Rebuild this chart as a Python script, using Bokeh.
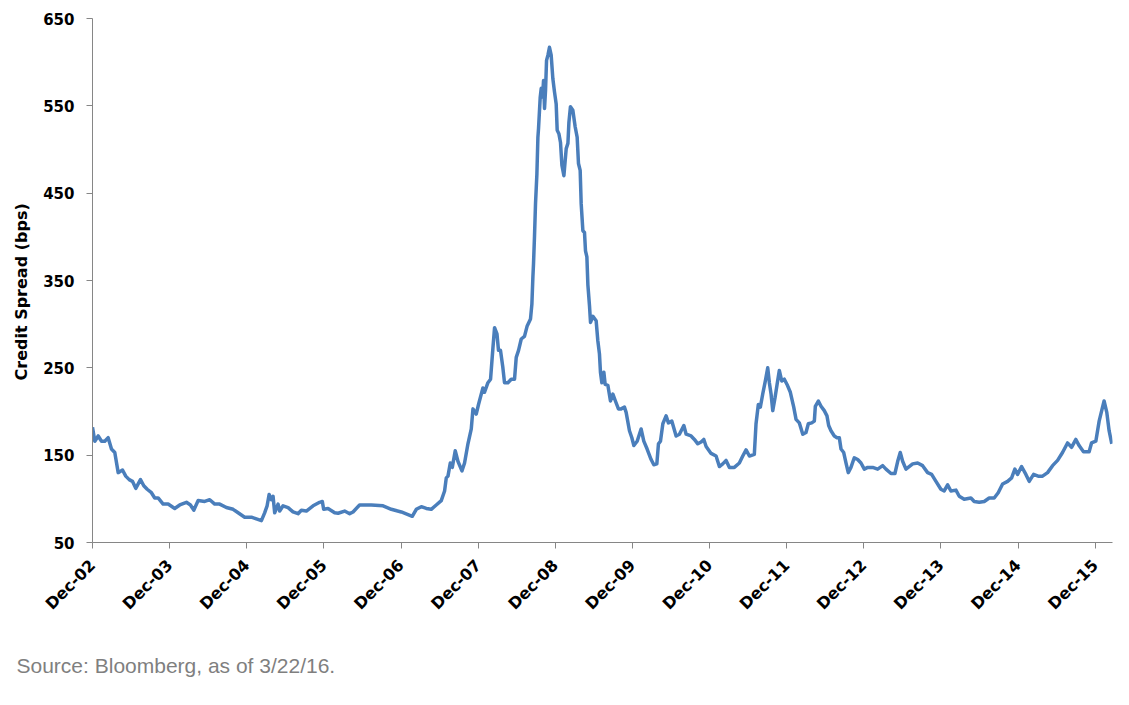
from bokeh.plotting import figure
from bokeh.models import FixedTicker, Range1d, Title
from bokeh.embed import file_html
from bokeh.resources import INLINE

# Observation time as fractional year (2003.0 = end of Dec 2002) and credit spread in bps
year_frac = [
    2003.000, 2003.030, 2003.074, 2003.117, 2003.159, 2003.203, 2003.246, 2003.289, 2003.333, 2003.389,
    2003.431, 2003.476, 2003.518, 2003.561, 2003.622, 2003.665, 2003.709, 2003.764, 2003.807, 2003.851,
    2003.916, 2003.981, 2004.066, 2004.131, 2004.218, 2004.270, 2004.313, 2004.370, 2004.455, 2004.520,
    2004.585, 2004.649, 2004.736, 2004.823, 2004.888, 2004.973, 2005.060, 2005.125, 2005.190, 2005.232,
    2005.264, 2005.290, 2005.319, 2005.341, 2005.362, 2005.406, 2005.427, 2005.471, 2005.536, 2005.600,
    2005.665, 2005.708, 2005.773, 2005.860, 2005.945, 2005.980, 2005.997, 2006.054, 2006.140,
    2006.184, 2006.269, 2006.334, 2006.378, 2006.463, 2006.615, 2006.767, 2006.874, 2007.004, 2007.091,
    2007.146, 2007.198, 2007.263, 2007.328, 2007.392, 2007.457, 2007.522, 2007.565, 2007.587, 2007.609,
    2007.639, 2007.665, 2007.703, 2007.738, 2007.790, 2007.824, 2007.868, 2007.911, 2007.933, 2007.975,
    2008.005, 2008.062, 2008.083, 2008.127, 2008.161, 2008.192, 2008.213, 2008.244, 2008.264, 2008.290,
    2008.321, 2008.342, 2008.386, 2008.429, 2008.472, 2008.494, 2008.524, 2008.559, 2008.601, 2008.636,
    2008.679, 2008.697, 2008.710, 2008.718, 2008.731, 2008.744, 2008.762, 2008.775, 2008.783, 2008.805,
    2008.818, 2008.835, 2008.848, 2008.861, 2008.874, 2008.887, 2008.905, 2008.925, 2008.947, 2008.969,
    2008.990, 2009.012, 2009.025, 2009.047, 2009.068, 2009.086, 2009.112, 2009.142, 2009.164, 2009.177,
    2009.197, 2009.228, 2009.258, 2009.284, 2009.301, 2009.323, 2009.336, 2009.358, 2009.379, 2009.392,
    2009.410, 2009.423, 2009.444, 2009.457, 2009.488, 2009.530, 2009.552, 2009.573, 2009.586, 2009.604,
    2009.630, 2009.647, 2009.682, 2009.716, 2009.747, 2009.780, 2009.819, 2009.854, 2009.897, 2009.919,
    2009.962, 2009.993, 2010.019, 2010.062, 2010.113, 2010.148, 2010.191, 2010.243, 2010.278, 2010.317,
    2010.338, 2010.364, 2010.395, 2010.437, 2010.467, 2010.511, 2010.567, 2010.610, 2010.667, 2010.697,
    2010.761, 2010.804, 2010.848, 2010.891, 2010.926, 2010.956, 2011.020, 2011.085, 2011.128, 2011.172,
    2011.215, 2011.258, 2011.322, 2011.387, 2011.431, 2011.474, 2011.517, 2011.581, 2011.603, 2011.633,
    2011.659, 2011.690, 2011.724, 2011.755, 2011.776, 2011.798, 2011.820, 2011.850, 2011.876, 2011.905,
    2011.936, 2011.970, 2012.005, 2012.048, 2012.092, 2012.122, 2012.164, 2012.209, 2012.251, 2012.281,
    2012.325, 2012.359, 2012.372, 2012.411, 2012.446, 2012.488, 2012.523, 2012.545, 2012.575, 2012.618,
    2012.653, 2012.683, 2012.705, 2012.740, 2012.770, 2012.799, 2012.834, 2012.877, 2012.921, 2012.964,
    2013.007, 2013.051, 2013.116, 2013.180, 2013.245, 2013.288, 2013.353, 2013.404, 2013.440, 2013.473,
    2013.504, 2013.547, 2013.634, 2013.699, 2013.763, 2013.828, 2013.880, 2013.936, 2014.000, 2014.043,
    2014.087, 2014.130, 2014.195, 2014.238, 2014.302, 2014.389, 2014.432, 2014.497, 2014.562, 2014.626,
    2014.691, 2014.743, 2014.800, 2014.865, 2014.917, 2014.959, 2014.994, 2015.046, 2015.102, 2015.145,
    2015.202, 2015.261, 2015.318, 2015.383, 2015.448, 2015.513, 2015.577, 2015.642, 2015.694, 2015.750,
    2015.792, 2015.849, 2015.922, 2015.953, 2016.009, 2016.052, 2016.096, 2016.116, 2016.151, 2016.181,
    2016.216,
]

spread_bps = [
    182, 166, 172, 166, 166, 170, 157, 153, 130, 133,
    126, 122, 120, 112, 122, 115, 111, 107, 101, 101,
    94, 94, 89, 93, 96, 93, 87, 98, 97, 99,
    94, 94, 90, 88, 84, 79, 79, 77, 75, 84,
    92, 105, 99, 103, 84, 94, 86, 92, 90, 85,
    83, 87, 86, 92, 96, 97, 88, 89, 84,
    83.5, 86, 83, 85, 93, 93, 92, 88, 85, 82,
    80, 88, 91, 89, 88, 93, 98, 109, 124, 126,
    141, 136, 155, 143, 132, 141, 163, 180, 203, 197,
    208, 227, 222, 233, 237, 273, 296, 289, 270, 270,
    250, 233, 233, 237, 237, 262, 270, 283, 286, 298,
    306, 323, 354, 369, 401, 438, 472, 514, 524, 560,
    570, 560, 579, 547, 568, 602, 608, 617, 608, 581,
    566, 552, 522, 518, 508, 482, 470, 501, 507, 531,
    549, 545, 526, 514, 484, 476, 438, 407, 405, 384,
    377, 345, 321, 302, 309, 304, 281, 266, 245, 233,
    245, 231, 230, 212, 220, 212, 203, 203, 205, 199,
    178, 170, 161, 166, 180, 166, 157, 145, 139, 140,
    163, 166, 186, 195, 187, 189, 172, 174, 184, 174,
    172, 168, 163, 165, 168, 160, 152, 149, 137, 140,
    144, 136, 136, 141, 149, 156, 149, 151, 186, 208,
    205, 220, 235, 250, 233, 220, 201, 216, 231, 247,
    235, 237, 231, 222, 205, 191, 187, 174, 176, 186,
    187, 189, 206, 212, 206, 201, 195, 184, 178, 172,
    170, 170, 157, 153, 141, 130, 136, 147, 145, 141,
    134, 136, 136, 134, 138, 134, 129, 129, 143, 153,
    143, 134, 140, 141, 138, 130, 128, 120, 111, 109,
    116, 109, 110, 103, 99.5, 101, 97, 96, 97, 101,
    101, 107, 117, 120, 124, 134, 128, 137, 128, 120,
    128, 126, 126, 130, 138, 144, 153, 164, 159, 168,
    161, 154, 154, 164, 166, 189, 205, 212, 199, 178,
    163,
]

# Axis ticks and their labels
x_tick_years = list(range(2003, 2017))
x_tick_labels = ["Dec-02", "Dec-03", "Dec-04", "Dec-05", "Dec-06", "Dec-07", "Dec-08",
                 "Dec-09", "Dec-10", "Dec-11", "Dec-12", "Dec-13", "Dec-14", "Dec-15"]
y_ticks = [50, 150, 250, 350, 450, 550, 650]

FONT = "DejaVu Sans"
AXIS_GREY = "#868686"

p = figure(
    width=1129, height=705,
    output_backend="svg", toolbar_location=None,
    x_range=Range1d(2003.0, 2016.225), y_range=Range1d(50, 650),
    min_border_left=91, min_border_right=17, min_border_top=18, min_border_bottom=163,
)
p.outline_line_color = None
p.grid.visible = False
p.background_fill_color = "white"
p.border_fill_color = "white"

p.line(year_frac, spread_bps, line_color="#4a7ebb", line_width=3.5, line_join="round")

# y axis
yax = p.yaxis[0]
yax.ticker = FixedTicker(ticks=y_ticks)
yax.major_label_text_font = FONT
yax.major_label_text_font_style = "bold"
yax.major_label_text_font_size = "15px"
yax.major_label_text_color = "black"
yax.major_label_standoff = 12
yax.axis_line_color = AXIS_GREY
yax.major_tick_line_color = AXIS_GREY
yax.major_tick_out = 6
yax.major_tick_in = 0
yax.minor_tick_line_color = None

# x axis
xax = p.xaxis[0]
xax.ticker = FixedTicker(ticks=x_tick_years)
xax.major_label_overrides = {y: lab for y, lab in zip(x_tick_years, x_tick_labels)}
xax.major_label_orientation = 0.785398
xax.major_label_text_font = FONT
xax.major_label_text_font_style = "bold"
xax.major_label_text_font_size = "16px"
xax.major_label_text_color = "black"
xax.major_label_standoff = 14
xax.axis_line_color = AXIS_GREY
xax.major_tick_line_color = AXIS_GREY
xax.major_tick_out = 6
xax.major_tick_in = 0
xax.minor_tick_line_color = None

# vertical axis title, drawn as a side title so it can sit off-centre
p.add_layout(Title(
    text="Credit Spread (bps)", align="left", offset=162, standoff=19,
    text_font=FONT, text_font_style="bold", text_font_size="16px", text_color="black",
), "left")

# source note under the chart
p.add_layout(Title(
    text="Source: Bloomberg, as of 3/22/16.", align="left", offset=-76, standoff=57,
    text_font="Liberation Sans", text_font_style="normal", text_font_size="21px",
    text_color="#7f7f7f",
), "below")

open("out.html", "w").write(file_html(p, INLINE))
